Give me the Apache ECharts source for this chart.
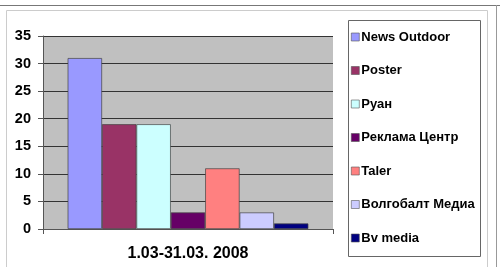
<!DOCTYPE html>
<html><head><meta charset="utf-8">
<script src="https://cdn.jsdelivr.net/npm/echarts@6/dist/echarts.min.js"></script>
<style>html,body{margin:0;padding:0;background:#fff}#c{width:500px;height:267px}</style>
</head><body><div id="c"></div>
<script>
var categories = ['1.03-31.03. 2008'];
var seriesNames = ['News Outdoor', 'Poster', 'Руан', 'Реклама Центр', 'Taler', 'Волгобалт Медиа', 'Bv media'];
var seriesValues = [31, 19, 19, 3, 11, 3, 1];
var seriesColors = ['#9999ff', '#993366', '#ccffff', '#660066', '#ff8080', '#ccccff', '#000080'];
var yTicks = [0, 5, 10, 15, 20, 25, 30, 35];

var FONT = '"Liberation Sans", Arial, sans-serif';
var chart = echarts.init(document.getElementById('c'), null, {renderer: 'canvas'});
var series = seriesNames.map(function (n, i) {
  return {
    name: n, type: 'bar', data: [seriesValues[i]],
    barGap: '0%', barCategoryGap: '17%',
    itemStyle: {color: seriesColors[i], borderColor: '#444', borderWidth: 0.7},
    emphasis: {disabled: true}, animation: false
  };
});
chart.setOption({
  animation: false,
  textStyle: {fontFamily: FONT},
  grid: {left: 43, top: 36, width: 290, height: 193, show: true, backgroundColor: '#c0c0c0', borderWidth: 0},
  xAxis: {
    type: 'category', data: categories,
    axisLine: {lineStyle: {color: '#555', width: 1}},
    axisTick: {show: true, length: 5, lineStyle: {color: '#555'}},
    axisLabel: {fontFamily: FONT, fontWeight: 'bold', fontSize: 16, color: '#000', margin: 17}
  },
  yAxis: {
    type: 'value', min: yTicks[0], max: yTicks[yTicks.length - 1], interval: 5,
    axisLine: {show: true, lineStyle: {color: '#555', width: 1}},
    axisTick: {show: true, length: 5, lineStyle: {color: '#555'}},
    splitLine: {show: true, lineStyle: {color: '#333', width: 1}},
    axisLabel: {fontFamily: FONT, fontWeight: 'bold', fontSize: 14.5, color: '#000', margin: 12}
  },
  legend: {
    orient: 'vertical', left: 351, top: 30, padding: 0,
    itemWidth: 8, itemHeight: 8, itemGap: 19.5,
    icon: 'rect',
    itemStyle: {borderColor: '#555', borderWidth: 0.6},
    textStyle: {fontFamily: FONT, fontWeight: 'bold', fontSize: 13, color: '#000', lineHeight: 14, padding: [0, 0, 0, -3]},
    data: seriesNames,
    selectedMode: false
  },
  graphic: [
    {type: 'line', shape: {x1: 0, y1: 5.5, x2: 500, y2: 5.5}, style: {stroke: '#777', lineWidth: 1}, z: -1},
    {type: 'rect', shape: {x: 6.5, y: 10.5, width: 481, height: 270}, style: {fill: 'none', stroke: '#ccc', lineWidth: 1}, z: -1},
    {type: 'line', shape: {x1: 496.5, y1: 5, x2: 496.5, y2: 267}, style: {stroke: '#999', lineWidth: 1}, z: -1},
    {type: 'rect', shape: {x: 348.5, y: 20.5, width: 132, height: 236}, style: {fill: '#fff', stroke: '#666', lineWidth: 1}, z: -1}
  ],
  series: series
});
</script></body></html>
